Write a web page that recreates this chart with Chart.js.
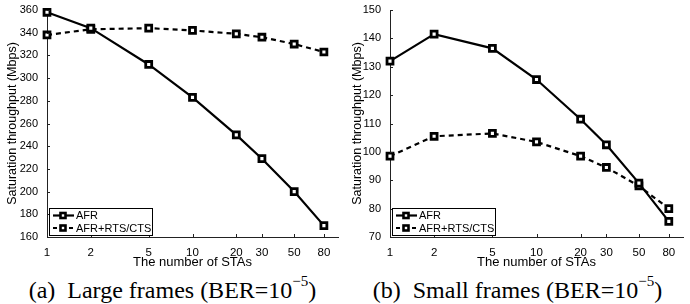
<!DOCTYPE html>
<html>
<head>
<meta charset="utf-8">
<script src="https://cdn.jsdelivr.net/npm/chart.js@4.4.1/dist/chart.umd.min.js"></script>
<style>
  body { margin: 0; background: #fff; width: 690px; height: 304px; overflow: hidden; position: relative; }
  .panel { position: absolute; top: 0; width: 345px; height: 270px; }
  .caption { position: absolute; top: 277px; width: 345px; text-align: center; line-height: 26px;
             font-family: 'Liberation Serif', 'Times New Roman', serif; font-size: 24px; color: #000; }
  .caption sup { font-size: 15px; line-height: 0; position: relative; top: -3px; }
</style>
</head>
<body>
<div class="panel" style="left:0"><canvas id="largeChart" width="345" height="270"></canvas></div>
<div class="panel" style="left:345px"><canvas id="smallChart" width="345" height="270"></canvas></div>
<div class="caption" style="left:0">(a)&nbsp; Large frames (BER=10<sup>&minus;5</sup>)</div>
<div class="caption" style="left:345px">(b)&nbsp; Small frames (BER=10<sup>&minus;5</sup>)</div>
<script>
// Numero de estaciones (eje x, logaritmico)
const stas = [1, 2, 5, 10, 20, 30, 50, 80];

// (a) Tramas grandes
const largeAfr = [358, 344, 312, 283, 250, 229, 200, 170];
const largeRts = [338, 343, 344, 342, 339, 336, 330, 323];

// (b) Tramas pequenas
const smallAfr = [132, 141.5, 136.5, 125.5, 111.5, 102.5, 89, 75.5];
const smallRts = [98.5, 105.5, 106.5, 103.5, 98.5, 94.5, 88, 80];

const seriesNames = ['AFR', 'AFR+RTS/CTS'];
const fontFamily = "'Liberation Sans', Arial, sans-serif";

// Leyenda dibujada dentro del area del grafico (abajo a la izquierda)
const innerLegend = {
    id: 'innerLegend',
    afterDraw(chart) {
        const ctx = chart.ctx;
        const area = chart.chartArea;
        const x0 = area.left + 2, y0 = area.bottom - 29, w = 103, h = 27;
        ctx.save();
        ctx.fillStyle = '#fff';
        ctx.fillRect(x0, y0, w, h);
        ctx.strokeStyle = '#000';
        ctx.lineWidth = 1;
        ctx.strokeRect(x0 + 0.5, y0 + 0.5, w, h);
        ctx.font = '11px ' + fontFamily;
        ctx.textBaseline = 'middle';
        chart.data.datasets.forEach((ds, i) => {
            const y = y0 + 7.5 + i * 12.5;
            ctx.strokeStyle = '#000';
            ctx.lineWidth = 2.2;
            ctx.setLineDash(ds.borderDash.length ? [4, 4] : []);
            ctx.beginPath();
            ctx.moveTo(x0 + 4, y);
            ctx.lineTo(x0 + 25, y);
            ctx.stroke();
            ctx.setLineDash([]);
            ctx.lineWidth = 2.6;
            ctx.fillStyle = '#fff';
            ctx.fillRect(x0 + 11.5, y - 2.5, 5, 5);
            ctx.strokeRect(x0 + 11.5, y - 2.5, 5, 5);
            ctx.fillStyle = '#000';
            ctx.fillText(ds.label, x0 + 27, y + 0.5);
        });
        ctx.restore();
    }
};

// Marcas de escala hacia dentro
const innerTicks = {
    id: 'innerTicks',
    afterDraw(chart) {
        const ctx = chart.ctx;
        const area = chart.chartArea;
        const xs = chart.scales.x, ys = chart.scales.y;
        ctx.save();
        ctx.strokeStyle = '#222';
        ctx.lineWidth = 1;
        ctx.beginPath();
        xs.ticks.forEach(t => {
            const px = Math.round(xs.getPixelForValue(t.value)) + 0.5;
            ctx.moveTo(px, area.bottom);
            ctx.lineTo(px, area.bottom - 3);
        });
        ys.ticks.forEach(t => {
            const py = Math.round(ys.getPixelForValue(t.value)) + 0.5;
            ctx.moveTo(area.left, py);
            ctx.lineTo(area.left + 3, py);
        });
        ctx.stroke();
        ctx.restore();
    }
};

function makeDataset(label, values, dash) {
    return {
        label: label,
        data: stas.map((s, i) => ({ x: s, y: values[i] })),
        borderColor: '#000',
        borderWidth: 2.2,
        borderDash: dash,
        pointStyle: 'rect',
        pointRadius: 4.2,
        pointBorderWidth: 2.8,
        pointBackgroundColor: '#fff',
        pointBorderColor: '#000',
        fill: false,
        clip: false,
        tension: 0
    };
}

function makeChart(canvasId, afrValues, rtsValues, yMin, yMax, yStep, yWidth, padRight) {
    const ctx = document.getElementById(canvasId).getContext('2d');
    return new Chart(ctx, {
        type: 'line',
        data: {
            datasets: [
                makeDataset(seriesNames[0], afrValues, []),
                makeDataset(seriesNames[1], rtsValues, [5, 4])
            ]
        },
        options: {
            responsive: false,
            animation: false,
            layout: { padding: { top: 10, right: padRight, left: 5, bottom: 0 } },
            plugins: { legend: { display: false }, tooltip: { enabled: false } },
            scales: {
                x: {
                    type: 'logarithmic',
                    min: 1,
                    max: 100,
                    afterBuildTicks: scale => { scale.ticks = stas.map(v => ({ value: v })); },
                    afterFit: scale => { scale.height = 33; },
                    grid: { display: false },
                    border: { color: '#222', width: 1 },
                    ticks: {
                        color: '#000',
                        padding: 1,
                        maxRotation: 0,
                        autoSkip: false,
                        font: { family: fontFamily, size: 11.5 },
                        callback: v => String(v)
                    },
                    title: {
                        display: true,
                        text: 'The number of STAs',
                        color: '#000',
                        padding: { top: -1, bottom: 0 },
                        font: { family: fontFamily, size: 13 }
                    }
                },
                y: {
                    min: yMin,
                    max: yMax,
                    afterFit: scale => { scale.width = yWidth; },
                    grid: { display: false },
                    border: { color: '#222', width: 1 },
                    ticks: {
                        stepSize: yStep,
                        color: '#000',
                        padding: 1,
                        font: { family: fontFamily, size: 11 }
                    },
                    title: {
                        display: true,
                        text: 'Saturation throughput (Mbps)',
                        color: '#000',
                        padding: { top: 0, bottom: 0 },
                        font: { family: fontFamily, size: 12.5 }
                    }
                }
            }
        },
        plugins: [innerTicks, innerLegend]
    });
}

document.addEventListener('DOMContentLoaded', () => {
    makeChart('largeChart', largeAfr, largeRts, 160, 360, 20, 42, 5);
    makeChart('smallChart', smallAfr, smallRts, 70, 150, 10, 40, 7);
});
</script>
</body>
</html>
